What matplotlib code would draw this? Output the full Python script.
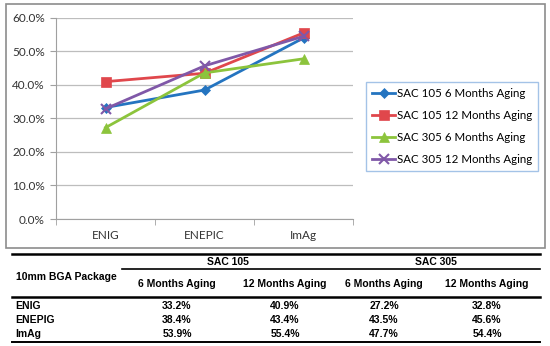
import matplotlib
matplotlib.use("Agg")
import matplotlib.pyplot as plt
from matplotlib.lines import Line2D
from matplotlib.patches import Rectangle

# data
finishes = ["ENIG", "ENEPIC", "ImAg"]
table_rows = ["ENIG", "ENEPIG", "ImAg"]
series_names = ["SAC 105 6 Months Aging", "SAC 105 12 Months Aging",
                "SAC 305 6 Months Aging", "SAC 305 12 Months Aging"]
sac105_6m = [33.2, 38.4, 53.9]
sac105_12m = [40.9, 43.4, 55.4]
sac305_6m = [27.2, 43.5, 47.7]
sac305_12m = [32.8, 45.6, 54.4]
y_ticks = [0, 10, 20, 30, 40, 50, 60]

colors = ["#2474C0", "#E0474C", "#8CC43C", "#8058A8"]
markers = ["D", "s", "^", "x"]
msizes = [5, 7, 7, 7]

W, H = 550, 346
fig = plt.figure(figsize=(W / 100, H / 100), dpi=100)
plt.rcParams['font.family'] = ['Lato', 'DejaVu Sans']

def fx(px):
    return px / W

def fy(py):
    return 1 - py / H

# chart frame
fig.patches.append(Rectangle((fx(6), fy(248)), fx(539), fy(4) - fy(248),
                             transform=fig.transFigure, fill=False,
                             edgecolor="#8C8C8C", linewidth=1.2))

ax = fig.add_axes([fx(56), fy(219), fx(297), fy(17.5) - fy(219)])
all_series = [sac105_6m, sac105_12m, sac305_6m, sac305_12m]
x = range(len(finishes))
for vals, name, c, m, ms in zip(all_series, series_names, colors, markers, msizes):
    ax.plot(x, vals, color=c, marker=m, markersize=ms, linewidth=2,
            label=name, markeredgewidth=1.5 if m == "x" else 0.5)

ax.set_xlim(-0.5, 2.5)
ax.set_ylim(0, 60)
ax.set_yticks(y_ticks)
ax.set_yticklabels([f"{t:.1f}%" for t in y_ticks], fontsize=8.5, color="#333333")
ax.set_xticks([0, 1, 2])
ax.set_xticklabels(finishes, fontsize=8.5, color="#333333")
ax.set_xticks([-0.5, 0.5, 1.5, 2.5], minor=True)
ax.tick_params(axis="x", which="major", length=0, pad=8)
ax.tick_params(axis="x", which="minor", length=4, color="#A0A0A0")
ax.tick_params(axis="y", length=4, color="#A0A0A0", pad=4)
ax.grid(axis="y", color="#BDBDBD", linewidth=0.9)
ax.set_axisbelow(True)
for s in ["top", "right"]:
    ax.spines[s].set_visible(False)
ax.spines["left"].set_color("#A0A0A0")
ax.spines["bottom"].set_color("#A0A0A0")

leg = ax.legend(loc="center left", bbox_to_anchor=(fx(366), fy(126.5)),
                bbox_transform=fig.transFigure, fontsize=8.3, frameon=True,
                fancybox=False, edgecolor="#8DB4E2", handlelength=2.0,
                labelspacing=0.95, borderpad=0.55, handletextpad=0.1,
                borderaxespad=0)
leg.get_frame().set_linewidth(1)

# table below the chart
bold = dict(fontsize=7.5, fontweight="bold", family="Liberation Sans",
            color="black", va="center")

def hline(y, x0, x1, lw):
    fig.add_artist(Line2D([fx(x0), fx(x1)], [fy(y), fy(y)], color="black",
                          linewidth=lw, transform=fig.transFigure))

hline(254, 12, 540, 1.8)
hline(269, 122, 540, 1.2)
hline(297, 12, 540, 1.8)
hline(342, 12, 540, 1.4)

fig.text(fx(66), fy(277), "10mm BGA Package", ha="center", **bold)
fig.text(fx(228), fy(262), "SAC 105", ha="center", **bold)
fig.text(fx(436), fy(262), "SAC 305", ha="center", **bold)
col_x = [177, 285, 384, 487]
col_titles = ["6 Months Aging", "12 Months Aging", "6 Months Aging", "12 Months Aging"]
for cx, t in zip(col_x, col_titles):
    fig.text(fx(cx), fy(284), t, ha="center", **bold)

row_y = [306, 320, 334]
for i, (ry, name) in enumerate(zip(row_y, table_rows)):
    fig.text(fx(15), fy(ry), name, ha="left", **bold)
    for cx, vals in zip(col_x, all_series):
        fig.text(fx(cx), fy(ry), f"{vals[i]:.1f}%", ha="center", **bold)

fig.savefig("out.png", dpi=100)
